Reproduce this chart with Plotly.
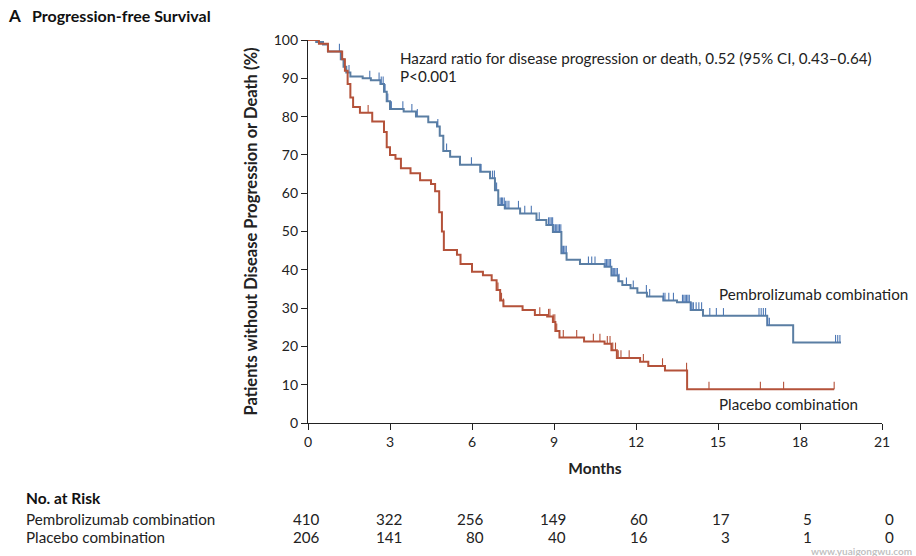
import plotly.graph_objects as go

# ---------------- data ----------------
pembro_t = [0, 0.3, 0.55, 0.73, 1.2, 1.3, 1.4, 1.55, 2.0, 2.3, 2.65, 2.78, 2.88, 3.0, 3.5, 3.95, 4.4,
            4.72, 4.82, 4.95, 5.2, 5.56, 6.3, 6.66, 6.84, 6.96, 7.2, 7.76, 8.36, 8.72, 8.96, 9.27,
            9.46, 9.95, 10.85, 11.1, 11.35, 11.5, 11.8, 12.05, 12.4, 13.0, 13.5, 14.0, 14.45, 16.8, 17.75]
pembro_s = [100, 99.5, 98.8, 97, 95, 93, 91.5, 90.5, 90, 89.5, 88.5, 86.5, 84, 82, 81.3, 80, 78.5,
            77.4, 75, 71, 69.5, 67.4, 65.6, 63.9, 60.8, 56.9, 56, 54.7, 53, 51.7, 49.9, 44.3,
            42.6, 41.5, 40.8, 38.5, 37, 36, 35.2, 34, 33, 32, 31.5, 29.5, 28, 25.5, 21]
pembro_end = 19.5

placebo_t = [0, 0.4, 0.73, 1.25, 1.35, 1.45, 1.55, 1.65, 1.9, 2.35, 2.78, 2.88, 3.0, 3.2, 3.4, 3.75,
             4.1, 4.5, 4.65, 4.8, 4.9, 4.97, 5.45, 5.58, 6.0, 6.4, 6.72, 6.9, 7.03, 7.15, 7.85, 8.3,
             8.75, 8.96, 9.05, 9.2, 10.1, 10.85, 11.1, 11.3, 12.15, 12.45, 13.06, 13.87]
placebo_s = [100, 99, 97, 95, 92, 88.5, 85, 82.5, 81, 78.7, 76, 72, 70, 69, 66.5, 65.2,
             63.4, 62.4, 60.5, 55, 50, 45.2, 43.9, 41.5, 39.5, 38.6, 37.3, 34.7, 32, 30.5, 29.5, 28.2,
             27.8, 26.4, 24, 22.3, 21.3, 20.7, 19, 17, 16, 14.9, 13.7, 8.8]
placebo_end = 19.25

pembro_cens = [0.05, 0.1, 0.15, 0.2, 1.15, 1.22, 1.5, 2.26, 2.6, 2.68, 2.75, 2.82, 2.92, 3.05, 3.47,
               3.8, 4.0, 4.75, 5.07, 5.98, 6.33, 6.75, 6.82, 6.9, 7.03, 7.08, 7.12, 7.18, 7.22, 7.28,
               7.35, 7.7, 7.93, 8.17, 8.46, 8.8, 8.85, 8.9, 8.95, 9.0, 9.05, 9.1, 9.15, 9.2, 9.25,
               9.3, 9.35, 9.4, 9.45, 10.26, 10.38, 10.5, 10.87, 10.92, 10.97, 11.02, 11.07, 11.12,
               11.17, 11.22, 11.27, 11.32, 11.38, 11.65, 11.9, 12.38, 12.5, 13.0, 13.06, 13.2, 13.37,
               13.7, 13.75, 13.8, 13.85, 13.9, 13.95, 14.0, 14.05, 14.1, 14.2, 14.3, 14.4, 14.7,
               14.94, 15.2, 16.5, 16.58, 16.66, 16.74, 16.82, 16.88, 19.3, 19.38, 19.46]
placebo_cens = [2.2, 6.9, 6.95, 7.08, 7.15, 8.48, 8.8, 8.85, 8.97, 9.03, 9.1, 9.34, 9.83, 10.44,
                10.68, 10.95, 11.05, 11.15, 11.25, 11.35, 11.45, 11.75, 12.27, 12.97, 13.85, 14.67,
                16.55, 17.4, 19.25]

x_ticks = [0, 3, 6, 9, 12, 15, 18, 21]
y_ticks = [0, 10, 20, 30, 40, 50, 60, 70, 80, 90, 100]
risk_pembro = [410, 322, 256, 149, 60, 17, 5, 0]
risk_placebo = [206, 141, 80, 40, 16, 3, 1, 0]

series_names = ["Pembrolizumab combination", "Placebo combination"]
hr_text = "Hazard ratio for disease progression or death, 0.52 (95% CI, 0.43–0.64)"
p_text = "P<0.001"

# ---------------- style ----------------
BLUE = "#5a7ea3"
BLUE_C = "#4f79b5"
RED = "#b4523a"
FONT = "Lato"

L, R, T, B = 308, 34, 40, 133
W, H = 916, 556
PW, PH = W - L - R, H - T - B


def px(xp):
    return (xp - L) / PW


def py(yp):
    return (H - B - yp) / PH


def step_xy(t, s, end):
    xs, ys = [], []
    for i, (ti, si) in enumerate(zip(t, s)):
        if i > 0:
            xs.append(ti)
            ys.append(s[i - 1])
        xs.append(ti)
        ys.append(si)
    xs.append(end)
    ys.append(s[-1])
    return xs, ys


def surv_at(t, s, x):
    v = s[0]
    for ti, si in zip(t, s):
        if ti <= x:
            v = si
    return v


fig = go.Figure()

for t, s, end, cens, col, ccol in [
    (pembro_t, pembro_s, pembro_end, pembro_cens, BLUE, BLUE_C),
    (placebo_t, placebo_s, placebo_end, placebo_cens, RED, RED),
]:
    xs, ys = step_xy(t, s, end)
    fig.add_trace(go.Scatter(x=xs, y=ys, mode="lines", line=dict(color=col, width=2),
                             cliponaxis=False, showlegend=False, hoverinfo="skip"))
    cy = [surv_at(t, s, c) for c in cens]
    fig.add_trace(go.Scatter(
        x=cens, y=cy, mode="markers", marker=dict(size=1, color=ccol, opacity=0),
        error_y=dict(type="data", symmetric=False, array=[2.0] * len(cens),
                     arrayminus=[0] * len(cens), width=0, thickness=1.1, color=ccol),
        cliponaxis=False, showlegend=False, hoverinfo="skip"))

fig.update_xaxes(range=[0, 21], tickvals=x_ticks, ticktext=[str(v) for v in x_ticks],
                 showline=True, linecolor="#222", linewidth=1.3, ticks="outside",
                 ticklen=6, tickcolor="#222", tickwidth=1.3, showgrid=False, zeroline=False,
                 tickfont=dict(family=FONT, size=14, color="#222"),
                 title=dict(text="<b>Months</b>", font=dict(family=FONT, size=15.5, color="#222"),
                            standoff=14))
fig.update_yaxes(range=[0, 100], tickvals=y_ticks, ticktext=[str(v) for v in y_ticks],
                 showline=True, linecolor="#222", linewidth=1.3, ticks="outside",
                 ticklen=6, tickcolor="#222", tickwidth=1.3, showgrid=False, zeroline=False,
                 tickfont=dict(family=FONT, size=14, color="#222"),
                 title=dict(text="<b>Patients without Disease Progression or Death (%)</b>",
                            font=dict(family=FONT, size=16.5, color="#222"), standoff=11))

TXT = 15.2
ann = []
ann.append(dict(x=px(6), y=py(16), xref="paper", yref="paper", text="<b>A</b>",
                showarrow=False, xanchor="left", yanchor="middle",
                font=dict(family=FONT, size=17, color="#111")))
ann.append(dict(x=px(30), y=py(16), xref="paper", yref="paper", text="<b>Progression-free Survival</b>",
                showarrow=False, xanchor="left", yanchor="middle",
                font=dict(family=FONT, size=16, color="#111")))
ann.append(dict(x=px(398), y=py(58), xref="paper", yref="paper", text=hr_text,
                showarrow=False, xanchor="left", yanchor="middle",
                font=dict(family=FONT, size=TXT, color="#222")))
ann.append(dict(x=px(398), y=py(76), xref="paper", yref="paper", text=p_text,
                showarrow=False, xanchor="left", yanchor="middle",
                font=dict(family=FONT, size=TXT, color="#222")))
ann.append(dict(x=px(717), y=py(294), xref="paper", yref="paper", text=series_names[0],
                showarrow=False, xanchor="left", yanchor="middle",
                font=dict(family=FONT, size=TXT, color="#222")))
ann.append(dict(x=px(717), y=py(404), xref="paper", yref="paper", text=series_names[1],
                showarrow=False, xanchor="left", yanchor="middle",
                font=dict(family=FONT, size=TXT, color="#222")))
ann.append(dict(x=px(24), y=py(498), xref="paper", yref="paper", text="<b>No. at Risk</b>",
                showarrow=False, xanchor="left", yanchor="middle",
                font=dict(family=FONT, size=15.5, color="#111")))
for name, row, yp in [(series_names[0], risk_pembro, 519), (series_names[1], risk_placebo, 537)]:
    ann.append(dict(x=px(24), y=py(yp), xref="paper", yref="paper", text=name,
                    showarrow=False, xanchor="left", yanchor="middle",
                    font=dict(family=FONT, size=TXT, color="#222")))
    for xv, n in zip(x_ticks, row):
        ann.append(dict(x=xv, y=py(yp), xref="x", yref="paper", text=str(n), xshift=14,
                        showarrow=False, xanchor="right", yanchor="middle",
                        font=dict(family=FONT, size=TXT, color="#222")))
ann.append(dict(x=px(914), y=py(551), xref="paper", yref="paper", text="<b>www.yuaigongwu.com</b>",
                showarrow=False, xanchor="right", yanchor="middle",
                font=dict(family=FONT, size=10, color="rgba(150,150,150,0.6)")))

fig.update_layout(width=W, height=H, margin=dict(l=L, r=R, t=T, b=B),
                  paper_bgcolor="white", plot_bgcolor="white", annotations=ann,
                  showlegend=False)

fig.write_html("out.html")
